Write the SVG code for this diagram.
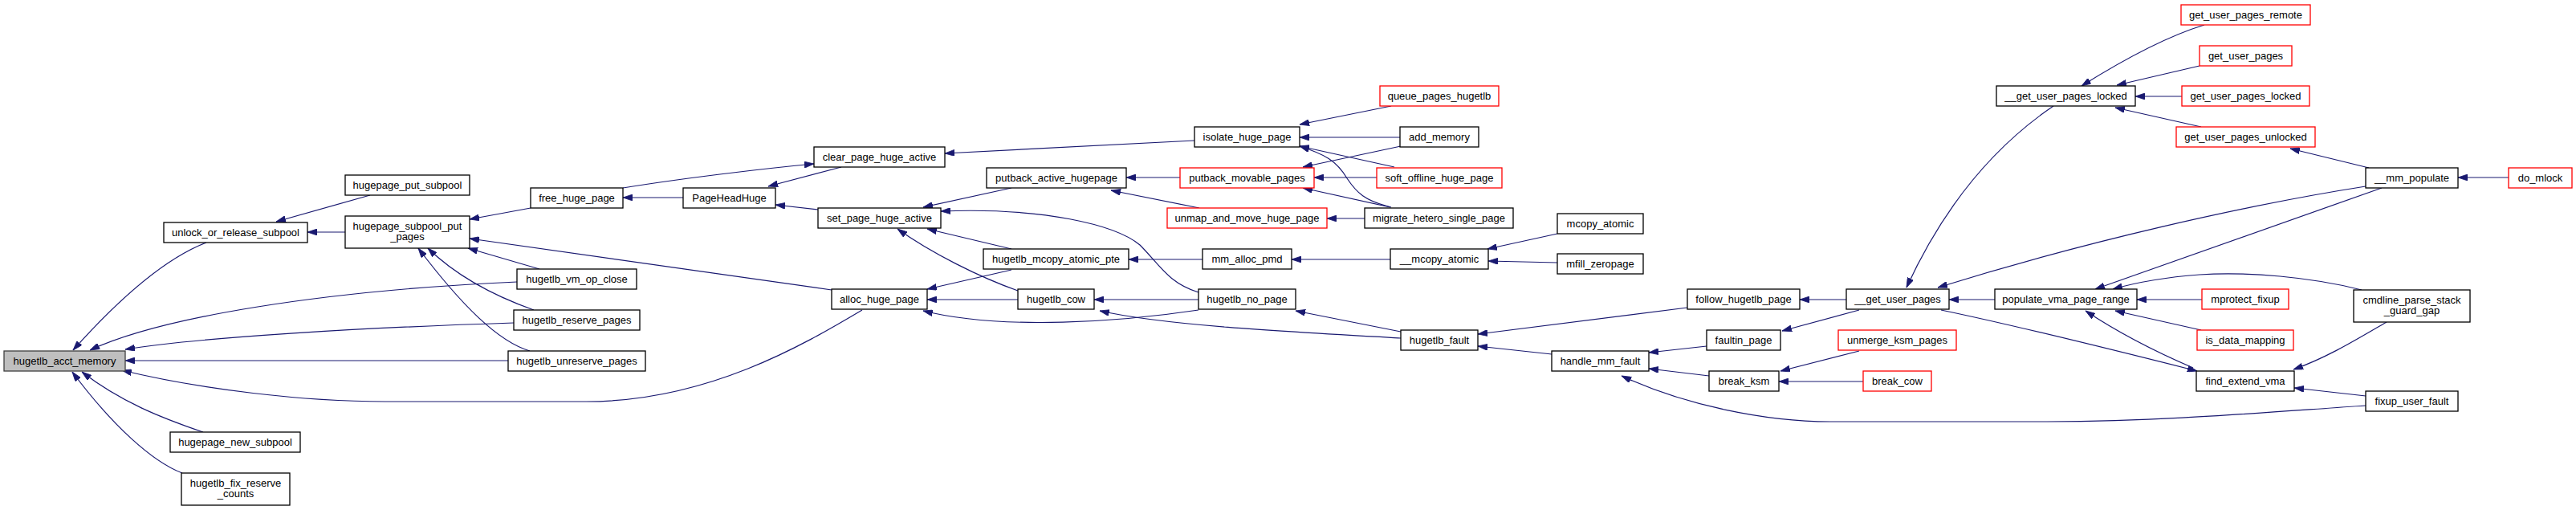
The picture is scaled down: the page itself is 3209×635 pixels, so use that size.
<svg xmlns="http://www.w3.org/2000/svg" width="3209" height="635" viewBox="0 0 3209 635">
<style>
.n rect{fill:#ffffff;stroke:#000000;stroke-width:1.3}
.n.red rect{stroke:#ff0000}
.n.root rect{fill:#bfbfbf;stroke:#404040}
.n text{font-family:"Liberation Sans",Arial,Helvetica,sans-serif;font-size:13px;fill:#000000;text-anchor:middle}
#edges path{fill:none;stroke:#191970;stroke-width:1.2;marker-end:url(#ah)}
</style>
<defs>
<marker id="ah" viewBox="0 0 12 8" refX="12" refY="4" markerWidth="12" markerHeight="8" markerUnits="userSpaceOnUse" orient="auto">
<path d="M0,0 L12,4 L0,8 z" fill="#191970" stroke="#191970" stroke-width="0.8"/>
</marker>
</defs>
<rect width="3209" height="635" fill="#ffffff"/>
<g id="edges">
<path d="M257,302 C205,322 150,370 91,436"/>
<path d="M644,351 C400,362 200,395 112,436"/>
<path d="M640,402 C450,408 250,420 156,435"/>
<path d="M633,449 L156,449"/>
<path d="M1074,386 C1000,430 880,500 730,500 L480,500 C380,500 250,485 152,461"/>
<path d="M253,538 C200,520 150,500 102,463"/>
<path d="M227,589 C190,575 140,530 90,463"/>
<path d="M461,243 L344,276"/>
<path d="M430,289 L383,289"/>
<path d="M661,259 L585,273"/>
<path d="M1036,361 L585,297"/>
<path d="M672,335 L583,309"/>
<path d="M665,386 C620,370 570,345 533,309"/>
<path d="M660,437 C620,425 575,380 521,309"/>
<path d="M851,246 L776,246"/>
<path d="M1048,208 L957,232"/>
<path d="M1019,261 L966,255"/>
<path d="M776,234 C850,222 950,210 1014,204"/>
<path d="M1488,175 L1177,191"/>
<path d="M1260,234 L1150,258"/>
<path d="M1493,364 C1455,352 1445,330 1420,305 C1390,280 1300,258 1172,263"/>
<path d="M1260,310 L1155,285"/>
<path d="M1268,362 C1220,345 1160,315 1118,285"/>
<path d="M1260,336 L1155,360"/>
<path d="M1268,373 L1155,373"/>
<path d="M1493,386 C1400,400 1250,412 1150,387"/>
<path d="M1470,221 L1403,221"/>
<path d="M1494,259 L1384,237"/>
<path d="M1498,323 L1406,323"/>
<path d="M1493,373 L1363,373"/>
<path d="M1745,421 C1600,413 1450,405 1370,387"/>
<path d="M1733,132 L1619,155"/>
<path d="M1744,171 L1619,171"/>
<path d="M1737,208 L1619,182"/>
<path d="M1733,258 C1700,250 1690,240 1678,222 C1665,200 1650,192 1619,182"/>
<path d="M1745,182 L1623,208"/>
<path d="M1715,221 L1637,221"/>
<path d="M1732,258 L1623,234"/>
<path d="M1700,272 L1653,272"/>
<path d="M1732,323 L1609,323"/>
<path d="M1940,291 L1853,310"/>
<path d="M1940,327 L1854,325"/>
<path d="M1745,413 L1614,387"/>
<path d="M2102,383 L1841,416"/>
<path d="M1933,441 L1841,431"/>
<path d="M2126,431 L2054,439"/>
<path d="M2129,468 L2054,459"/>
<path d="M2947,505 C2800,515 2700,524 2550,525 L2280,525 C2200,525 2100,505 2020,468"/>
<path d="M2300,373 L2242,373"/>
<path d="M2316,386 L2220,412"/>
<path d="M2316,437 L2218,462"/>
<path d="M2321,475 L2216,475"/>
<path d="M2558,132 C2480,185 2420,260 2375,358"/>
<path d="M2485,373 L2428,373"/>
<path d="M2947,232 C2800,255 2600,300 2414,358"/>
<path d="M2418,386 C2500,403 2650,440 2737,462"/>
<path d="M2732,458 C2690,440 2640,415 2598,387"/>
<path d="M2967,234 L2610,360"/>
<path d="M2942,361 C2880,345 2800,338 2740,342 C2700,345 2660,352 2632,360"/>
<path d="M2743,373 L2662,373"/>
<path d="M2742,411 L2635,387"/>
<path d="M2973,401 C2940,420 2900,445 2857,460"/>
<path d="M2947,493 L2858,483"/>
<path d="M2746,31 C2710,42 2660,65 2593,107"/>
<path d="M2740,82 L2637,106"/>
<path d="M2718,120 L2660,120"/>
<path d="M2742,158 L2635,134"/>
<path d="M2951,209 L2853,185"/>
<path d="M3125,221 L3062,221"/>
</g>
<g id="n1" class="n root"><rect x="5" y="437" width="151" height="25"/><text x="80.5" y="454">hugetlb_acct_memory</text></g>
<g id="n2" class="n"><rect x="204" y="277" width="179" height="25"/><text x="293.5" y="294">unlock_or_release_subpool</text></g>
<g id="n3" class="n"><rect x="430" y="218" width="155" height="25"/><text x="507.5" y="235">hugepage_put_subpool</text></g>
<g id="n4" class="n"><rect x="430" y="269" width="155" height="40"/><text x="507.5" y="286">hugepage_subpool_put</text><text x="507.5" y="299">_pages</text></g>
<g id="n5" class="n"><rect x="212" y="538" width="162" height="25"/><text x="293" y="555">hugepage_new_subpool</text></g>
<g id="n6" class="n"><rect x="226" y="589" width="135" height="40"/><text x="293.5" y="606">hugetlb_fix_reserve</text><text x="293.5" y="619">_counts</text></g>
<g id="n7" class="n"><rect x="661" y="234" width="115" height="25"/><text x="718.5" y="251">free_huge_page</text></g>
<g id="n8" class="n"><rect x="851" y="234" width="115" height="25"/><text x="908.5" y="251">PageHeadHuge</text></g>
<g id="n9" class="n"><rect x="1014" y="183" width="163" height="25"/><text x="1095.5" y="200">clear_page_huge_active</text></g>
<g id="n10" class="n"><rect x="1019" y="259" width="153" height="25"/><text x="1095.5" y="276">set_page_huge_active</text></g>
<g id="n11" class="n"><rect x="644" y="335" width="149" height="25"/><text x="718.5" y="352">hugetlb_vm_op_close</text></g>
<g id="n12" class="n"><rect x="640" y="386" width="157" height="25"/><text x="718.5" y="403">hugetlb_reserve_pages</text></g>
<g id="n13" class="n"><rect x="633" y="437" width="171" height="25"/><text x="718.5" y="454">hugetlb_unreserve_pages</text></g>
<g id="n14" class="n"><rect x="1036" y="360" width="119" height="25"/><text x="1095.5" y="377">alloc_huge_page</text></g>
<g id="n15" class="n"><rect x="1488" y="158" width="131" height="25"/><text x="1553.5" y="175">isolate_huge_page</text></g>
<g id="n16" class="n"><rect x="1229" y="209" width="174" height="25"/><text x="1316" y="226">putback_active_hugepage</text></g>
<g id="n17" class="n red"><rect x="1470" y="209" width="167" height="25"/><text x="1553.5" y="226">putback_movable_pages</text></g>
<g id="n18" class="n red"><rect x="1454" y="259" width="199" height="25"/><text x="1553.5" y="276">unmap_and_move_huge_page</text></g>
<g id="n19" class="n"><rect x="1225" y="310" width="181" height="25"/><text x="1315.5" y="327">hugetlb_mcopy_atomic_pte</text></g>
<g id="n20" class="n"><rect x="1498" y="310" width="111" height="25"/><text x="1553.5" y="327">mm_alloc_pmd</text></g>
<g id="n21" class="n"><rect x="1268" y="360" width="95" height="25"/><text x="1315.5" y="377">hugetlb_cow</text></g>
<g id="n22" class="n"><rect x="1493" y="360" width="121" height="25"/><text x="1553.5" y="377">hugetlb_no_page</text></g>
<g id="n23" class="n red"><rect x="1719" y="107" width="148" height="25"/><text x="1793" y="124">queue_pages_hugetlb</text></g>
<g id="n24" class="n"><rect x="1744" y="158" width="98" height="25"/><text x="1793" y="175">add_memory</text></g>
<g id="n25" class="n red"><rect x="1715" y="209" width="156" height="25"/><text x="1793" y="226">soft_offline_huge_page</text></g>
<g id="n26" class="n"><rect x="1700" y="259" width="185" height="25"/><text x="1792.5" y="276">migrate_hetero_single_page</text></g>
<g id="n27" class="n"><rect x="1940" y="266" width="107" height="25"/><text x="1993.5" y="283">mcopy_atomic</text></g>
<g id="n28" class="n"><rect x="1732" y="310" width="122" height="25"/><text x="1793" y="327">__mcopy_atomic</text></g>
<g id="n29" class="n"><rect x="1940" y="316" width="107" height="25"/><text x="1993.5" y="333">mfill_zeropage</text></g>
<g id="n30" class="n"><rect x="1745" y="411" width="96" height="25"/><text x="1793" y="428">hugetlb_fault</text></g>
<g id="n31" class="n"><rect x="1933" y="437" width="121" height="25"/><text x="1993.5" y="454">handle_mm_fault</text></g>
<g id="n32" class="n"><rect x="2102" y="360" width="140" height="25"/><text x="2172" y="377">follow_hugetlb_page</text></g>
<g id="n33" class="n"><rect x="2126" y="411" width="92" height="25"/><text x="2172" y="428">faultin_page</text></g>
<g id="n34" class="n"><rect x="2129" y="462" width="87" height="25"/><text x="2172.5" y="479">break_ksm</text></g>
<g id="n35" class="n"><rect x="2300" y="360" width="128" height="25"/><text x="2364" y="377">__get_user_pages</text></g>
<g id="n36" class="n red"><rect x="2290" y="411" width="147" height="25"/><text x="2363.5" y="428">unmerge_ksm_pages</text></g>
<g id="n37" class="n red"><rect x="2321" y="462" width="85" height="25"/><text x="2363.5" y="479">break_cow</text></g>
<g id="n38" class="n"><rect x="2487" y="107" width="173" height="25"/><text x="2573.5" y="124">__get_user_pages_locked</text></g>
<g id="n39" class="n"><rect x="2485" y="360" width="177" height="25"/><text x="2573.5" y="377">populate_vma_page_range</text></g>
<g id="n40" class="n red"><rect x="2717" y="6" width="161" height="25"/><text x="2797.5" y="23">get_user_pages_remote</text></g>
<g id="n41" class="n red"><rect x="2740" y="57" width="115" height="25"/><text x="2797.5" y="74">get_user_pages</text></g>
<g id="n42" class="n red"><rect x="2718" y="107" width="159" height="25"/><text x="2797.5" y="124">get_user_pages_locked</text></g>
<g id="n43" class="n red"><rect x="2711" y="158" width="173" height="25"/><text x="2797.5" y="175">get_user_pages_unlocked</text></g>
<g id="n44" class="n"><rect x="2947" y="209" width="115" height="25"/><text x="3004.5" y="226">__mm_populate</text></g>
<g id="n45" class="n red"><rect x="3125" y="209" width="79" height="25"/><text x="3164.5" y="226">do_mlock</text></g>
<g id="n46" class="n red"><rect x="2743" y="360" width="108" height="25"/><text x="2797" y="377">mprotect_fixup</text></g>
<g id="n47" class="n"><rect x="2932" y="361" width="145" height="40"/><text x="3004.5" y="378">cmdline_parse_stack</text><text x="3004.5" y="391">_guard_gap</text></g>
<g id="n48" class="n red"><rect x="2737" y="411" width="120" height="25"/><text x="2797" y="428">is_data_mapping</text></g>
<g id="n49" class="n"><rect x="2736" y="462" width="122" height="25"/><text x="2797" y="479">find_extend_vma</text></g>
<g id="n50" class="n"><rect x="2947" y="487" width="115" height="25"/><text x="3004.5" y="504">fixup_user_fault</text></g>
</svg>
